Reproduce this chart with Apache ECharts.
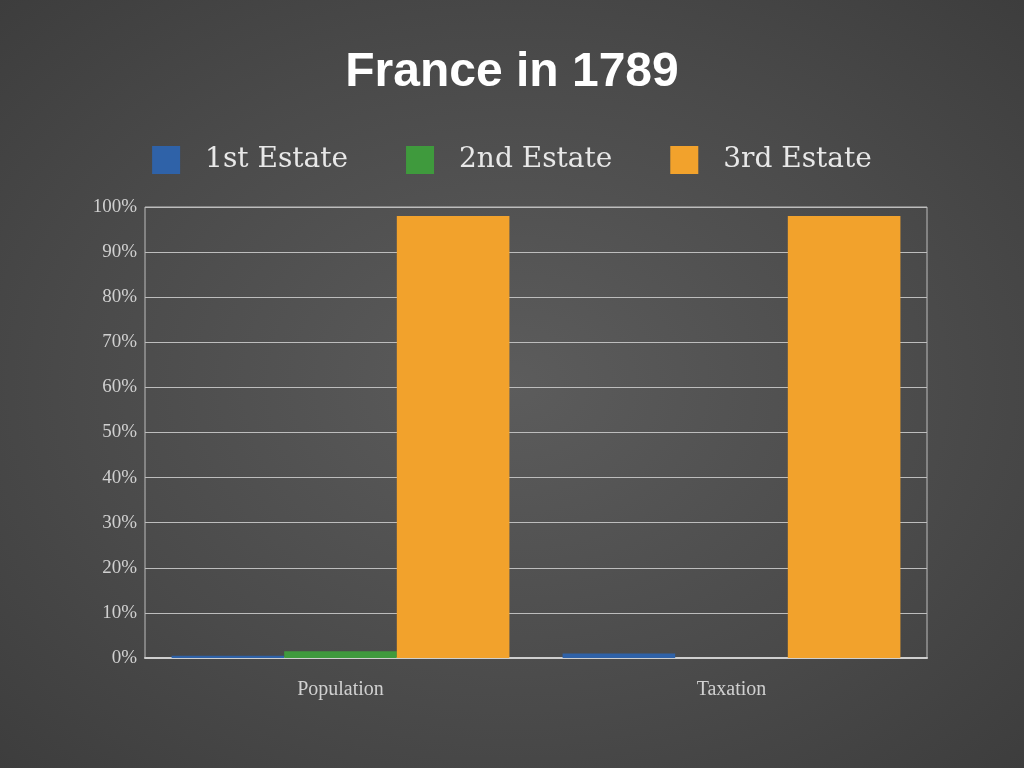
<!DOCTYPE html>
<html>
<head>
<meta charset="utf-8">
<script src="https://cdn.jsdelivr.net/npm/echarts@6/dist/echarts.min.js"></script>
<style>
  html, body { margin: 0; padding: 0; }
  #chart { width: 1024px; height: 768px; background: radial-gradient(ellipse at center, #5c5c5c 0%, #4a4a4a 60%, #3d3d3d 100%); }
</style>
</head>
<body>
<div id="chart"></div>
<script>
var categories = ['Population', 'Taxation'];
var firstEstate = [0.5, 1];
var secondEstate = [1.5, 0];
var thirdEstate = [98, 98];

var myChart = echarts.init(document.getElementById('chart'));

var serif = 'Liberation Serif';

var option = {
  backgroundColor: 'transparent',
  title: {
    text: 'France in 1789',
    left: 'center',
    top: 44,
    textStyle: {
      color: '#ffffff',
      fontSize: 48,
      fontWeight: 'bold',
      fontFamily: 'Liberation Sans'
    }
  },
  legend: {
    top: 141,
    left: 'center',
    itemWidth: 28,
    itemHeight: 28,
    itemGap: 58,
    icon: 'rect',
    textStyle: {
      color: '#e8e8e8',
      fontSize: 28,
      fontFamily: 'DejaVu Serif',
      padding: [0, 0, 0, 20]
    },
    data: ['1st Estate', '2nd Estate', '3rd Estate']
  },
  grid: {
    left: 145,
    right: 97,
    top: 207,
    bottom: 110,
    show: true,
    borderColor: '#bdbdbd',
    borderWidth: 1
  },
  xAxis: {
    type: 'category',
    data: categories,
    axisTick: { show: false },
    axisLine: { lineStyle: { color: '#cfcfcf', width: 2 } },
    axisLabel: {
      color: '#d0d0d0',
      fontSize: 20,
      fontFamily: serif,
      margin: 22
    }
  },
  yAxis: {
    type: 'value',
    min: 0,
    max: 100,
    interval: 10,
    axisLine: { show: false },
    axisTick: { show: false },
    axisLabel: {
      formatter: '{value}%',
      color: '#d0d0d0',
      fontSize: 19,
      fontFamily: serif,
      margin: 8
    },
    splitLine: { lineStyle: { color: '#bdbdbd', width: 1 } }
  },
  series: [
    {
      name: '1st Estate',
      type: 'bar',
      barGap: '0%',
      barCategoryGap: '13.6%',
      itemStyle: { color: '#2f62a8' },
      data: firstEstate
    },
    {
      name: '2nd Estate',
      type: 'bar',
      itemStyle: { color: '#3f9a3d' },
      data: secondEstate
    },
    {
      name: '3rd Estate',
      type: 'bar',
      itemStyle: { color: '#f2a22c' },
      data: thirdEstate
    }
  ]
};

myChart.setOption(option);
</script>
</body>
</html>
